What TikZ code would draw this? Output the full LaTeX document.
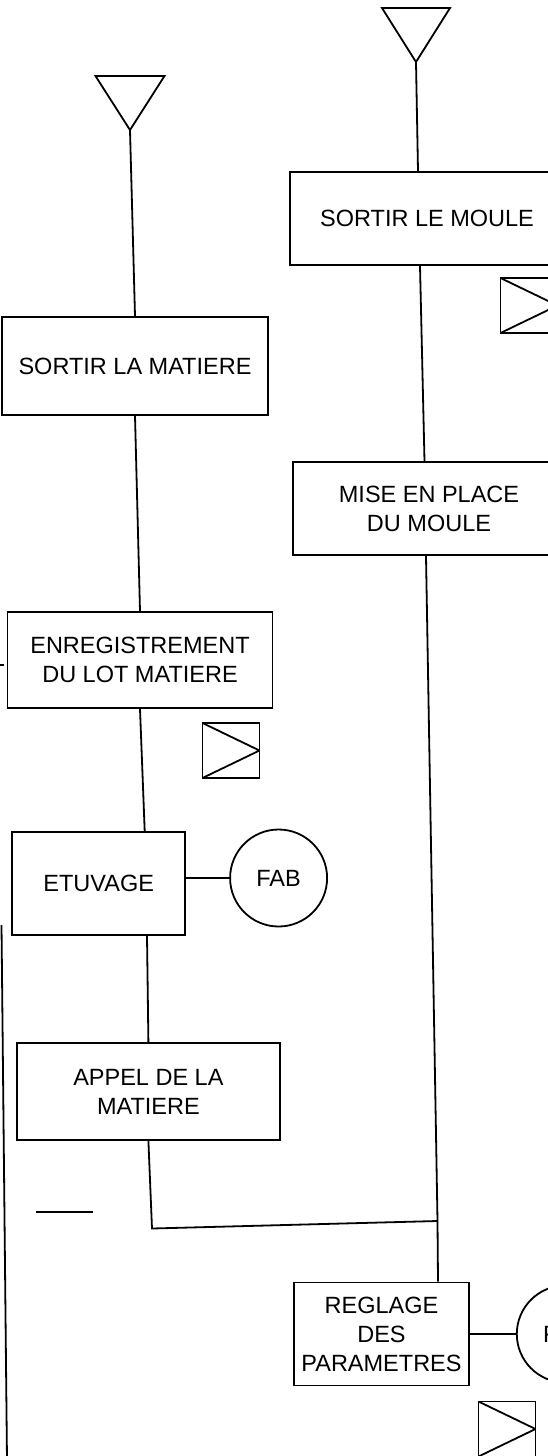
\documentclass[tikz,border=0pt]{standalone}
\usepackage{fontspec}
\setmainfont{Liberation Sans}
\usetikzlibrary{positioning}

\begin{document}
\begin{tikzpicture}[
x=1pt,y=-1pt,
line width=1.8pt,
box/.style={
draw,
rectangle,
align=center,
inner sep=0pt,
font=\fontsize{23.5}{29}\selectfont
},
ring/.style={
draw,
circle,
minimum size=97pt,
inner sep=0pt,
font=\fontsize{23.5}{29}\selectfont
},
sym/.style={
draw,
rectangle,
minimum width=57pt,
minimum height=55pt,
inner sep=0pt,
path picture={\draw[line width=1.8pt] (path picture bounding box.north west) -- (path picture bounding box.east) -- (path picture bounding box.south west);}
}
]
\useasboundingbox (0,0) rectangle (548,1456);
\clip (0,0) rectangle (548,1456);

% left column
\coordinate (tip1) at (130,130);
\draw (tip1) -- ++(-34.5,-54) -- ++(69,0) -- cycle;

\node[box, minimum width=266pt, minimum height=98pt] (matiere) at (135,366) {SORTIR LA MATIERE};
\node[box, minimum width=265pt, minimum height=96pt] (enreg) at (140,660) {ENREGISTREMENT\\DU LOT MATIERE};
\node[sym] (sym2) at (231,750.5) {};
\node[box, minimum width=173pt, minimum height=103pt] (etuv) at (98.7,883.5) {ETUVAGE};
\node[ring] (fab1) at (278.6,878) {FAB};
\node[box, minimum width=263pt, minimum height=97pt] (appel) at (148.4,1091.5) {APPEL DE LA\\MATIERE};

% right column
\coordinate (tip2) at (416,62);
\draw (tip2) -- ++(-34,-54) -- ++(68,0) -- cycle;

\node[box, minimum width=274pt, minimum height=93pt] (moule) at (427,218.5) {SORTIR LE MOULE};
\node[sym] (sym1) at (529,305.5) {};
\node[box, minimum width=272pt, minimum height=93pt] (mise) at (429,508.5) {MISE EN PLACE\\DU MOULE};
\coordinate (join1) at (152,1228.5);
\coordinate (join2) at (437.5,1221);
\node[box, minimum width=175pt, minimum height=103pt] (regl) at (381.5,1334) {REGLAGE\\DES\\PARAMETRES};
\node[ring, right=46pt of regl] (fab2) {FAB};
\node[sym] (sym3) at (507,1429) {};

% links
\draw (tip1) -- (matiere.north);
\draw (matiere.south) -- (enreg.north);
\draw (enreg.south) -- ([xshift=46pt]etuv.north);
\draw (fab1.west -| etuv.east) -- (fab1.west);
\draw ([xshift=48.3pt]etuv.south) -- (appel.north);
\draw (appel.south) -- (join1) -- (join2);

\draw (tip2) -- ([xshift=-9pt]moule.north);
\draw ([xshift=-7pt]moule.south) -- ([xshift=-4.5pt]mise.north);
\draw ([xshift=-3pt]mise.south) -- (join2) -- ([xshift=56.5pt]regl.north);
\draw (regl) -- (fab2);

% loose strokes
\coordinate (back1) at (1.5,925);
\coordinate (back2) at (7,1460);
\draw (back1) -- (back2);
\coordinate (stub1) at (0,665);
\coordinate (stub2) at (4,665);
\draw (stub1) -- (stub2);
\coordinate (mark1) at (36,1212);
\coordinate (mark2) at (93,1212);
\draw (mark1) -- (mark2);

\end{tikzpicture}
\end{document}
